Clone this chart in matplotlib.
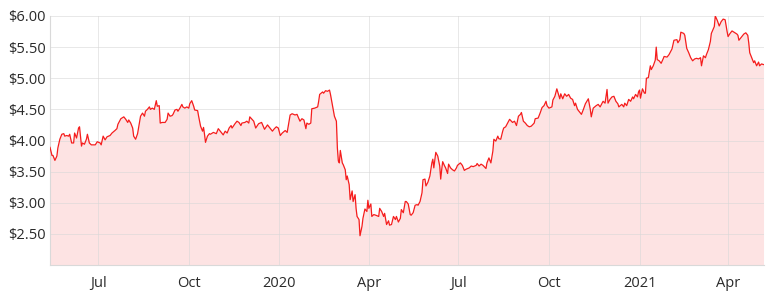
import matplotlib
matplotlib.use("Agg")
import matplotlib.pyplot as plt
from matplotlib.ticker import FuncFormatter
import pandas as pd

base_date = "2019-05-13"
end_offset = 725.5

day_offsets = [
    0, 2, 3, 5, 7, 8, 10, 12, 14, 15, 17, 19, 20, 22, 24, 25, 27, 29, 30, 32,
    33, 35, 37, 38, 40, 42, 46, 48, 51, 52, 54, 56, 58, 61, 63, 66, 68, 69, 72, 75,
    77, 79, 80, 82, 84, 85, 87, 89, 90, 92, 94, 96, 97, 99, 101, 102, 104, 106, 108, 109,
    111, 112, 114, 117, 119, 120, 122, 124, 125, 127, 129, 130, 132, 134, 135, 137, 139, 141, 142, 144,
    146, 147, 150, 151, 153, 155, 156, 157, 158, 160, 162, 163, 166, 169, 171, 173, 176, 178, 180, 182,
    184, 185, 188, 190, 192, 194, 195, 198, 200, 202,
    203, 207, 209, 212, 215, 218, 221, 224, 226, 228, 230, 232, 234, 236, 239, 241, 244, 246, 249, 251,
    254, 256, 258, 260, 261, 263, 265, 266, 269, 272, 273, 274, 277, 278, 280, 282, 284, 285, 287, 289,
    291, 292, 293, 294, 295, 297, 298, 300, 301, 302, 304, 305, 307, 308, 310, 311, 312, 314, 315, 317,
    318, 320, 322, 323, 324, 326, 327, 329, 331, 334, 335, 337, 339, 340, 342, 344, 345, 347, 349, 351,
    352, 354, 356, 357, 359, 361, 362, 364, 366, 367, 369, 371, 373, 374, 376, 378, 379, 381, 382, 384,
    386, 388, 389, 390, 392, 394, 396, 397, 398, 399, 401, 402, 404, 405, 407, 409, 411, 413, 414, 417,
    419, 421, 423, 426, 428, 430, 433, 434, 436, 438, 440, 443, 444, 446, 448, 450, 451, 453, 455, 456,
    458, 460, 461, 463, 465,
    467, 470, 472, 474, 476, 478, 479, 481, 483, 485, 487, 489, 492, 493, 496, 498, 500, 502, 504, 505,
    507, 510, 511, 513, 515, 518, 519, 521, 523, 525, 527, 529, 531, 533, 534, 536, 539, 540, 542, 544,
    547, 549, 550, 552, 555, 557, 559, 561, 562, 564, 566, 567, 569, 571, 573, 575, 577, 578, 581, 583,
    584, 586, 588, 590, 592, 593, 595, 597, 598, 599, 600, 602, 604, 605, 606, 608, 610, 611, 613, 615,
    616, 617, 619, 621, 623, 624, 627, 629, 632, 634, 637, 638, 640, 641, 644, 645, 647, 649, 651, 653,
    655, 657, 659, 661, 662, 664, 666, 667, 669, 671, 672, 675, 676, 678, 680, 682, 684, 686, 688, 689,
    691, 693, 696, 698, 699, 700, 703, 705, 707, 709, 710, 711, 713, 715, 716, 718, 720, 721, 723, 725,
]

prices = [
    3.89, 3.76, 3.76, 3.68, 3.75, 3.88, 4.02, 4.10, 4.11, 4.07, 4.08, 4.07, 4.10, 3.96, 3.96, 4.12, 4.04, 4.20, 4.22, 3.91,
    3.96, 3.94, 4.02, 4.10, 3.96, 3.93, 3.93, 3.98, 3.96, 3.93, 4.07, 4.01, 4.06, 4.08, 4.12, 4.16, 4.19, 4.26, 4.35, 4.38,
    4.34, 4.29, 4.33, 4.28, 4.20, 4.07, 4.02, 4.11, 4.20, 4.39, 4.44, 4.39, 4.47, 4.50, 4.54, 4.50, 4.52, 4.50, 4.64, 4.55,
    4.56, 4.28, 4.29, 4.29, 4.34, 4.44, 4.39, 4.40, 4.42, 4.49, 4.50, 4.47, 4.52, 4.58, 4.54, 4.52, 4.54, 4.52, 4.59, 4.64,
    4.55, 4.49, 4.48, 4.39, 4.23, 4.15, 4.21, 4.10, 3.97, 4.07, 4.11, 4.10, 4.13, 4.11, 4.19, 4.15, 4.09, 4.15, 4.12, 4.20,
    4.24, 4.20, 4.27, 4.31, 4.29, 4.24, 4.28, 4.29, 4.31, 4.28,
    4.38, 4.31, 4.20, 4.27, 4.29, 4.18, 4.25, 4.19, 4.15, 4.19, 4.22, 4.20, 4.08, 4.12, 4.16, 4.13, 4.41, 4.43, 4.41, 4.42,
    4.31, 4.35, 4.33, 4.19, 4.28, 4.26, 4.28, 4.51, 4.52, 4.54, 4.63, 4.74, 4.78, 4.76, 4.80, 4.79, 4.81, 4.74, 4.56, 4.39,
    4.31, 3.88, 3.67, 3.64, 3.84, 3.64, 3.61, 3.53, 3.37, 3.43, 3.29, 3.05, 3.19, 3.02, 3.13, 2.91, 2.78, 2.73, 2.47, 2.62,
    2.75, 2.90, 2.86, 3.04, 2.91, 2.98, 2.78, 2.81, 2.80, 2.78, 2.91, 2.86, 2.78, 2.83, 2.65, 2.71, 2.64, 2.65, 2.78, 2.73,
    2.78, 2.69, 2.75, 2.89, 2.84, 3.02, 3.02, 2.98, 2.81, 2.80, 2.84, 2.96, 2.97, 2.96, 3.02, 3.16, 3.37, 3.38, 3.27, 3.33,
    3.43, 3.64, 3.70, 3.56, 3.81, 3.75, 3.59, 3.38, 3.53, 3.66, 3.59, 3.56, 3.47, 3.62, 3.56, 3.53, 3.51, 3.56, 3.60, 3.64,
    3.60, 3.52, 3.54, 3.56, 3.59, 3.58, 3.60, 3.63, 3.59, 3.62, 3.60, 3.55, 3.64, 3.72, 3.64, 3.83, 4.02, 3.99, 4.07, 4.03,
    4.02, 4.15, 4.20, 4.22, 4.28,
    4.34, 4.29, 4.31, 4.24, 4.39, 4.42, 4.45, 4.31, 4.28, 4.24, 4.22, 4.23, 4.28, 4.35, 4.36, 4.44, 4.53, 4.56, 4.63, 4.56,
    4.52, 4.54, 4.65, 4.71, 4.83, 4.67, 4.75, 4.67, 4.75, 4.71, 4.74, 4.68, 4.66, 4.56, 4.60, 4.50, 4.44, 4.42, 4.50, 4.59,
    4.67, 4.50, 4.38, 4.52, 4.56, 4.58, 4.54, 4.60, 4.63, 4.60, 4.82, 4.60, 4.66, 4.70, 4.71, 4.63, 4.59, 4.54, 4.58, 4.54,
    4.60, 4.56, 4.66, 4.63, 4.70, 4.67, 4.74, 4.70, 4.78, 4.81, 4.68, 4.83, 4.76, 4.76, 5.00, 5.01, 5.20, 5.14, 5.20, 5.29,
    5.50, 5.30, 5.28, 5.24, 5.31, 5.35, 5.34, 5.38, 5.47, 5.61, 5.62, 5.57, 5.62, 5.74, 5.72, 5.69, 5.48, 5.41, 5.33, 5.28,
    5.31, 5.32, 5.31, 5.33, 5.20, 5.36, 5.33, 5.38, 5.46, 5.59, 5.72, 5.83, 6.00, 5.93, 5.84, 5.91, 5.95, 5.94, 5.75, 5.67,
    5.72, 5.76, 5.73, 5.71, 5.69, 5.61, 5.67, 5.71, 5.73, 5.69, 5.57, 5.41, 5.33, 5.25, 5.28, 5.20, 5.26, 5.20, 5.23, 5.22,
]

y_ticks = [2.5, 3.0, 3.5, 4.0, 4.5, 5.0, 5.5, 6.0]
x_tick_dates = ["2019-07-01", "2019-10-01", "2020-01-01", "2020-04-01",
                "2020-07-01", "2020-10-01", "2021-01-01", "2021-04-01"]
x_tick_labels = ["Jul", "Oct", "2020", "Apr", "Jul", "Oct", "2021", "Apr"]

base = pd.Timestamp(base_date)
dates = base + pd.to_timedelta(day_offsets, unit="D")

plt.rcParams["font.family"] = ["Open Sans", "DejaVu Sans"]

fig = plt.figure(figsize=(7.71, 2.97), dpi=100)
ax = fig.add_axes([50 / 771, 1 - 265 / 297, 714 / 771, 249 / 297])

ax.fill_between(dates, prices, 2.0, color="#fde3e3", linewidth=0, zorder=1)
ax.plot(dates, prices, color="#f51d1d", linewidth=0.9, zorder=3)

ax.set_ylim(2.0, 6.0)
ax.set_xlim(base, base + pd.Timedelta(days=end_offset))
ax.set_yticks(y_ticks)
ax.yaxis.set_major_formatter(FuncFormatter(lambda v, p: f"${v:.2f}"))
ax.set_xticks(pd.to_datetime(x_tick_dates))
ax.set_xticklabels(x_tick_labels)

ax.grid(True, color="#d8d8d8", linewidth=0.7, alpha=0.6, zorder=2)
ax.set_axisbelow(False)
for s in ["top", "right"]:
    ax.spines[s].set_visible(False)
for s in ["left", "bottom"]:
    ax.spines[s].set_color("#d9d9d9")
    ax.spines[s].set_linewidth(0.8)
ax.tick_params(axis="both", length=0, labelsize=10.5, labelcolor="#2a2a2a")
ax.tick_params(axis="y", pad=3)
ax.tick_params(axis="x", pad=8)

fig.savefig("out.png", dpi=100, facecolor="white")
